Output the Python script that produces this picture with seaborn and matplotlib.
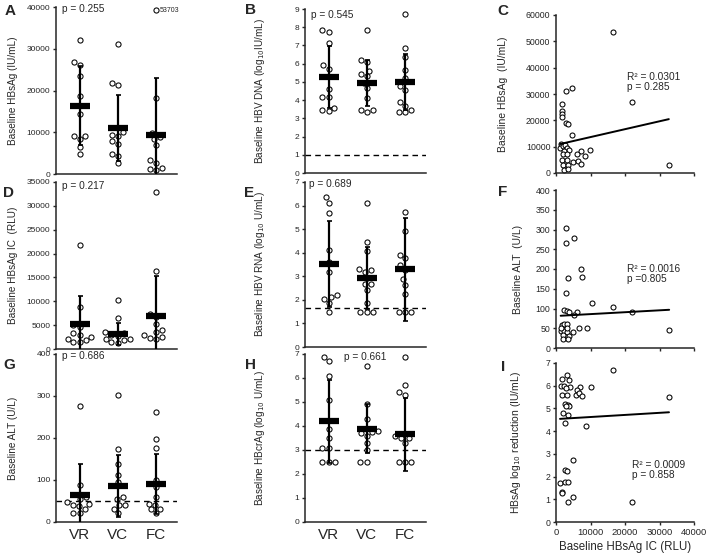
import numpy as np
import pandas as pd
import seaborn as sns
import matplotlib.pyplot as plt

groups = ["VR", "VC", "FC"]

# A - baseline HBsAg by group
hbsag_vr = [32000, 26800, 26000, 23400, 18600, 14300, 9200, 9000, 8400, 6500, 4700]
hbsag_vc = [31100, 21900, 21200, 10000, 9400, 9000, 7800, 7200, 4700, 4200, 2600]
hbsag_fc = [53703, 18300, 9800, 8800, 8400, 7000, 3400, 2700, 1400, 1100, 1000]
hbsag_mean = [16300, 11000, 9300]
hbsag_sd = [9450, 7850, 13700]

# B - baseline HBV DNA
dna_vr = [7.83, 7.74, 7.14, 5.9, 5.72, 4.6, 4.15, 4.15, 3.58, 3.45, 3.4]
dna_vc = [7.83, 6.18, 6.08, 5.62, 5.44, 5.3, 4.96, 4.65, 4.14, 3.45, 3.45, 3.33]
dna_fc = [8.75, 6.86, 6.36, 5.66, 5.24, 4.78, 4.56, 3.92, 3.68, 3.45, 3.36, 3.33]
dna_mean = [5.26, 4.94, 5.0]
dna_sd = [1.72, 1.24, 1.53]

# C - HBsAg IC vs HBsAg
c_x = [16400, 21900, 32700, 1640, 1840, 1840, 1640, 2800, 4640, 2900, 3570, 4730,
       1350, 1160, 1930, 2600, 3090, 3860, 2400, 1930, 3090, 1640, 3090, 2100,
       3380, 2400, 3570, 5020, 6280, 7250, 6000, 8400, 9850, 7250]
c_y = [53700, 26800, 3200, 26100, 23600, 22300, 21200, 31300, 32200, 18900, 18600, 14500,
       11000, 9500, 10100, 10700, 9500, 8800, 8200, 7300, 7300, 5000, 5000, 3200,
       3200, 1300, 1500, 4000, 4700, 8500, 7200, 6600, 8600, 3500]
c_fit = [10640, 0.30]

# D - baseline HBsAg IC by group
ic_vr = [21900, 8700, 5000, 4600, 3300, 3000, 2500, 2200, 1900, 1500, 1400]
ic_vc = [10200, 6600, 3500, 3300, 3000, 2800, 2100, 2100, 1800, 1400, 1200]
ic_fc = [32800, 16400, 7300, 6800, 5300, 4000, 3600, 3000, 2500, 2400, 2200]
ic_mean = [5200, 3100, 7000]
ic_sd = [5900, 2300, 8300]

# E - baseline HBV RNA
rna_vr = [6.35, 6.12, 5.7, 4.12, 3.6, 3.2, 2.2, 2.12, 2.05, 1.88, 1.5]
rna_vc = [6.12, 4.47, 4.09, 3.32, 3.25, 3.18, 2.93, 2.69, 2.66, 2.41, 1.88, 1.5, 1.5, 1.5]
rna_fc = [5.72, 4.92, 3.91, 3.76, 3.46, 3.28, 2.87, 2.62, 2.24, 1.5, 1.5, 1.5]
rna_mean = [3.53, 2.93, 3.29]
rna_sd = [1.82, 1.3, 2.2]

# F - HBsAg IC vs ALT
f_x = [2900, 2800, 5200, 7250, 7440, 3570, 2800, 2300, 3090, 3860, 6180, 5200,
       10300, 16600, 22100, 32800, 6760, 8900, 5020, 1640, 2400, 3090, 1350, 2400,
       3280, 1930, 3860, 2100, 3570, 3090, 1450]
f_y = [303, 265, 278, 200, 179, 177, 139, 97, 94, 90, 91, 83,
       115, 103, 90, 45, 50, 50, 40, 57, 61, 61, 42, 42,
       40, 34, 31, 23, 23, 50, 50]
f_fit = [81, 0.00048]

# G - baseline ALT
alt_vr = [276, 87, 60, 55, 48, 42, 40, 37, 30, 22, 21]
alt_vc = [302, 174, 137, 111, 95, 60, 55, 41, 41, 32, 21]
alt_fc = [262, 197, 177, 101, 83, 60, 44, 41, 32, 30, 21]
alt_mean = [65, 85, 91]
alt_sd = [72, 74, 71]

# H - baseline HBcrAg
crag_vr = [7.0, 6.7, 6.1, 5.09, 3.89, 3.49, 3.1, 3.1, 2.5, 2.5, 2.5]
crag_vc = [6.49, 4.91, 4.28, 3.8, 3.75, 3.7, 3.59, 3.3, 3.0, 2.5, 2.5]
crag_fc = [7.0, 5.71, 5.4, 5.29, 3.6, 3.49, 3.49, 3.3, 2.5, 2.5, 2.5]
crag_mean = [4.19, 3.89, 3.66]
crag_sd = [1.73, 1.02, 1.52]

# I - HBsAg IC vs HBsAg log10 reduction
i_x = [16400, 32750, 21900, 8700, 10000, 3090, 1640, 3670, 1350, 2400, 4060, 3000,
       5800, 6960, 6000, 6670, 7440, 1640, 3090, 2600, 3380, 3860, 3000, 2000,
       3380, 2500, 4830, 2600, 3090, 1160, 2600, 3380, 1640, 1840, 5020, 3570]
i_y = [6.71, 5.49, 0.88, 4.24, 5.93, 6.49, 6.31, 6.27, 5.98, 5.98, 5.93, 5.9,
       5.57, 5.93, 5.8, 5.68, 5.54, 5.57, 5.57, 5.2, 5.14, 5.1, 5.1, 4.8,
       4.73, 4.36, 2.72, 2.3, 2.26, 1.72, 1.75, 1.75, 1.31, 1.28, 1.09, 0.87]
i_fit = [4.53, 0.0000092]

sns.set_style("ticks")
plt.rcParams["font.family"] = ["Liberation Sans", "DejaVu Sans"]
plt.rcParams["axes.linewidth"] = 1.1
plt.rcParams["xtick.major.width"] = 1.0
plt.rcParams["ytick.major.width"] = 1.0
plt.rcParams["xtick.major.size"] = 2.5
plt.rcParams["ytick.major.size"] = 2.5

W, H = 709, 556
fig = plt.figure(figsize=(W / 100, H / 100), dpi=100)


def box(l, t, r, b):
    return [l / W, (H - b) / H, (r - l) / W, (b - t) / H]


def ftext(x, y, s, **kw):
    fig.text(x / W, 1 - y / H, s, **kw)


def group_panel(rect, vals, means, sds, ymax, ystep, ylabel, hline=None, xlabels=False):
    ax = fig.add_axes(box(*rect))
    shown = [np.minimum(v, ymax * 0.985) for v in vals]
    df = pd.DataFrame({"group": np.repeat(groups, [len(v) for v in shown]),
                       "value": np.concatenate(shown)})
    if hline is not None:
        ax.axhline(hline, color="black", ls=(0, (4, 3)), lw=1.0, zorder=1)
    sns.swarmplot(data=df, x="group", y="value", order=groups, ax=ax, size=3.7,
                  color="white", edgecolor="black", linewidth=0.75, zorder=2)
    ax.errorbar(range(3), means, yerr=sds, fmt="none", ecolor="black",
                elinewidth=1.6, capsize=1.8, capthick=1.2, zorder=3)
    ax.plot(range(3), means, ls="none", marker="_", ms=15, mew=4.5, color="black", zorder=4)
    ax.set_xlim(-0.62, 2.55)
    ax.set_ylim(0, ymax)
    ax.set_yticks(np.arange(0, ymax + ystep / 2, ystep))
    ax.tick_params(axis="y", labelsize=6, pad=1.5)
    ax.set_ylabel(ylabel, fontsize=7.2)
    ax.yaxis.set_label_coords(-0.31, 0.5)
    ax.set_xlabel("")
    if xlabels:
        ax.tick_params(axis="x", length=0, labelsize=11, pad=4)
    else:
        ax.tick_params(axis="x", length=0, labelbottom=False)
    sns.despine(ax=ax)
    return ax


def scatter_panel(rect, x, y, fit, ymax, ystep, ylabel, label_x, xlabels=False):
    ax = fig.add_axes(box(*rect))
    sns.scatterplot(x=x, y=y, ax=ax, s=13, color="white", edgecolor="black",
                    linewidth=0.75, zorder=2)
    xs = np.array([min(x), max(x)])
    sns.lineplot(x=xs, y=fit[0] + fit[1] * xs, ax=ax, color="black", lw=1.4, zorder=3)
    ax.set_xlim(0, 40000)
    ax.set_ylim(0, ymax)
    ax.set_xticks(np.arange(0, 40001, 10000))
    ax.set_yticks(np.arange(0, ymax + ystep / 2, ystep))
    ax.tick_params(axis="y", labelsize=6.3, pad=1.5)
    ax.set_ylabel(ylabel, fontsize=7.5)
    ax.yaxis.set_label_coords(label_x, 0.5)
    if xlabels:
        ax.tick_params(axis="x", labelsize=6.8, pad=2)
        ax.set_xlabel("Baseline HBsAg IC (RLU)", fontsize=8.3, labelpad=3)
    else:
        ax.tick_params(axis="x", labelbottom=False)
    sns.despine(ax=ax)
    return ax


# column 1
group_panel((56, 7, 177, 174), [hbsag_vr, hbsag_vc, hbsag_fc], hbsag_mean, hbsag_sd,
            40000, 10000, "Baseline HBsAg (IU/mL)")
group_panel((56, 182, 177, 349), [ic_vr, ic_vc, ic_fc], ic_mean, ic_sd,
            35000, 5000, "Baseline HBsAg IC  (RLU)")
group_panel((56, 354, 177, 522), [alt_vr, alt_vc, alt_fc], alt_mean, alt_sd,
            400, 100, "Baseline ALT (U/L)", hline=50, xlabels=True)

# column 2
group_panel((305, 9, 426, 173), [dna_vr, dna_vc, dna_fc], dna_mean, dna_sd,
            9, 1, "Baseline HBV DNA (log$_{10}$IU/mL)", hline=1)
group_panel((305, 182, 426, 347), [rna_vr, rna_vc, rna_fc], rna_mean, rna_sd,
            7, 1, "Baseline HBV RNA (log$_{10}$ U/mL)", hline=1.65)
group_panel((305, 354, 426, 522), [crag_vr, crag_vc, crag_fc], crag_mean, crag_sd,
            7, 1, "Baseline HBcrAg (log$_{10}$ U/mL)", hline=3, xlabels=True)

# column 3
scatter_panel((556, 15, 694, 173), c_x, c_y, c_fit, 60000, 10000,
              "Baseline HBsAg  (IU/mL)", -0.35)
scatter_panel((556, 190, 694, 348), f_x, f_y, f_fit, 400, 50,
              "Baseline ALT  (U/L)", -0.24)
scatter_panel((556, 363, 694, 522), i_x, i_y, i_fit, 7, 1,
              "HBsAg log$_{10}$ reduction (IU/mL)", -0.24, xlabels=True)

# annotations
ftext(160, 11, str(hbsag_fc[0]), fontsize=5, va="center")
pk = dict(fontsize=7.3, va="center")
ftext(62, 9, "p = 0.255", **pk)
ftext(311, 15, "p = 0.545", **pk)
ftext(62, 186, "p = 0.217", **pk)
ftext(309, 184, "p = 0.689", **pk)
ftext(62, 356, "p = 0.686", **pk)
ftext(365, 357, "p = 0.661", ha="center", **pk)
ftext(627, 82, "R² = 0.0301\np = 0.285", linespacing=1.0, **pk)
ftext(627, 274, "R² = 0.0016\np =0.805", linespacing=1.0, **pk)
ftext(632, 470, "R² = 0.0009\np = 0.858", linespacing=1.0, **pk)

lk = dict(fontsize=11, fontweight="bold", va="center", ha="center")
for lab, x, y in [("A", 10, 11), ("B", 251, 10), ("C", 503, 11),
                  ("D", 9, 193), ("E", 249, 193), ("F", 503, 192),
                  ("G", 9, 365), ("H", 251, 365), ("I", 503, 367)]:
    ftext(x, y, lab, **lk)

fig.savefig("out.png", dpi=100)
